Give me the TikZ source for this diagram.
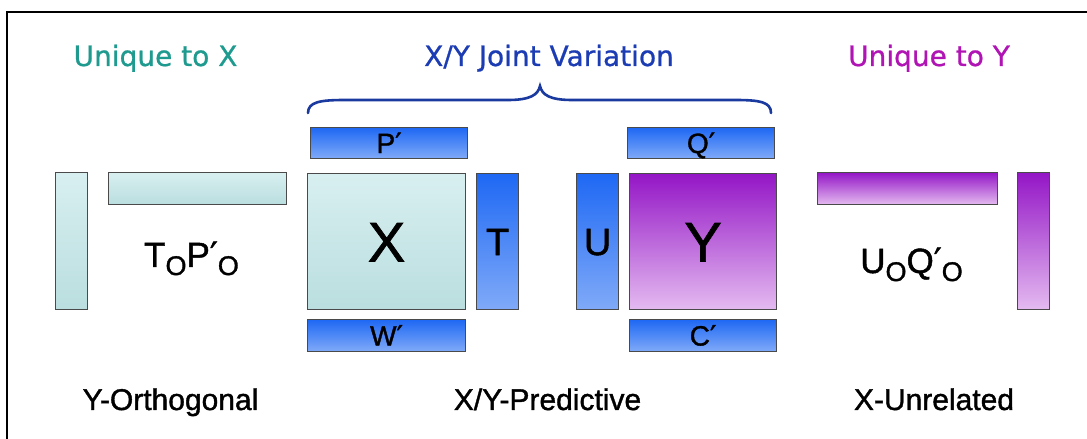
\documentclass[tikz,border=0pt]{standalone}
\usepackage{fontspec}
\setmainfont{Liberation Sans}[FakeBold=1.2]
\newfontfamily\titlefont{DejaVu Sans}[FakeBold=0.8]
\newfontfamily\primefont{DejaVu Sans}[FakeBold=1.2]
\newcommand{\pr}{{\primefont ′}}
\definecolor{tealtxt}{HTML}{1F9A8F}
\definecolor{bluetxt}{HTML}{1C3CB4}
\definecolor{magtxt}{HTML}{B014B4}
\definecolor{bracecol}{HTML}{1A3AA0}
\definecolor{tealtop}{HTML}{D8EFF0}
\definecolor{tealbot}{HTML}{BADEDF}
\definecolor{bluetop}{HTML}{1E68F4}
\definecolor{bluebot}{HTML}{80AAF8}
\definecolor{purptop}{HTML}{9416C6}
\definecolor{purpbot}{HTML}{E4BAF0}
\definecolor{edgecol}{HTML}{4A4A4A}
\begin{document}
\begin{tikzpicture}[x=1bp,y=-1bp,
  box/.style={draw=edgecol, line width=1.1bp, inner sep=0pt, anchor=north west, rectangle},
  tealbox/.style={box, top color=tealtop, bottom color=tealbot},
  bluebox/.style={box, top color=bluetop, bottom color=bluebot},
  purpbox/.style={box, top color=purptop, bottom color=purpbot},
  barlab/.style={font=\fontsize{28bp}{30bp}\selectfont, text height=20bp, text depth=0bp},
  midlab/.style={font=\fontsize{38bp}{40bp}\selectfont, text height=27bp, text depth=0bp},
  biglab/.style={font=\fontsize{56bp}{58bp}\selectfont, text height=40bp, text depth=0bp},
  title/.style={anchor=base, inner sep=0pt, font=\titlefont\fontsize{28bp}{30bp}\selectfont},
  bottomlab/.style={anchor=base, inner sep=0pt, font=\fontsize{30bp}{32bp}\selectfont},
  sublab/.style={anchor=base, inner sep=0pt, font=\fontsize{35bp}{37bp}\selectfont}
]
\useasboundingbox[fill=white] (0,0) rectangle (1087,439);
\draw[line width=1.5bp] (7,439) -- (7,12) -- (1087,12);

% titles
\node[title, text=tealtxt] (t1) at (155.5,66) {Unique to X};
\node[title, text=bluetxt] (t2) at (549,66) {X/Y Joint Variation};
\node[title, text=magtxt] (t3) at (929,66) {Unique to Y};

% brace
\coordinate (bl) at (308,113);
\coordinate (bt) at (540,86);
\coordinate (br) at (771,113);
\draw[bracecol, line width=2.6bp, line cap=round]
  (bl) .. controls (308,102) and (320,100) .. (345,100) -- (508,100)
  .. controls (530,100) and (538,95) .. (bt)
  .. controls (542,95) and (550,100) .. (572,100) -- (735,100)
  .. controls (760,100) and (771,102) .. (br);

% left block
\node[tealbox, minimum width=32bp, minimum height=137bp] (lv) at (55,172) {};
\node[tealbox, minimum width=178bp, minimum height=32bp] (lh) at (108,172) {};
\node[sublab] (tp) at (191.5,267) {T\raisebox{-8bp}{\fontsize{27bp}{29bp}\selectfont O}P\pr\raisebox{-8bp}{\fontsize{27bp}{29bp}\selectfont O}};

% middle
\node[bluebox, barlab, minimum width=157bp, minimum height=31bp] (P) at (310,127) {P\pr};
\node[tealbox, biglab, minimum width=158bp, minimum height=136bp] (X) at (307,173) {X};
\node[bluebox, midlab, minimum width=42bp, minimum height=136bp] (T) at (476,173) {T};
\node[bluebox, barlab, minimum width=158bp, minimum height=32bp] (W) at (307,319) {W\pr};
\node[bluebox, midlab, minimum width=42bp, minimum height=136bp] (U) at (576,173) {U};
\node[purpbox, biglab, minimum width=147bp, minimum height=136bp] (Y) at (629,173) {Y};
\node[bluebox, barlab, minimum width=147bp, minimum height=31bp] (Q) at (627,127) {Q\pr};
\node[bluebox, barlab, minimum width=147bp, minimum height=32bp] (C) at (629,319) {C\pr};

% right block
\node[purpbox, minimum width=180bp, minimum height=32bp] (rh) at (817,172) {};
\node[purpbox, minimum width=32bp, minimum height=137bp] (rv) at (1017,172) {};
\node[sublab] (uq) at (911.5,273) {U\raisebox{-8bp}{\fontsize{27bp}{29bp}\selectfont O}Q\pr\raisebox{-8bp}{\fontsize{27bp}{29bp}\selectfont O}};

% bottom labels
\node[bottomlab] (b1) at (170.5,410) {Y-Orthogonal};
\node[bottomlab] (b2) at (547.5,410) {X/Y-Predictive};
\node[bottomlab] (b3) at (934,410) {X-Unrelated};
\end{tikzpicture}
\end{document}
